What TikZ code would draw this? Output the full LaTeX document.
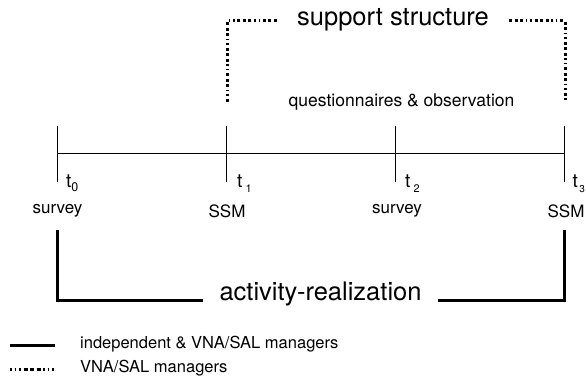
\documentclass[tikz,border=0pt]{standalone}
\usepackage{fontspec}
\setmainfont{TeX Gyre Heros}
\begin{document}
\begin{tikzpicture}[x=1pt,y=-1pt,
  tl/.style={line width=0.9pt},
  solidbr/.style={line width=3pt},
  dotbr/.style={line width=3pt,dash pattern=on 3pt off 2.5pt on 3pt off 2.5pt on 3pt off 2.5pt on 1.5pt off 3pt on 1.5pt off 3pt},
  big/.style={font=\fontsize{25.5}{26}\selectfont, inner sep=0pt},
  small/.style={font=\fontsize{16.5}{17}\selectfont, inner sep=0pt},
  tlab/.style={font=\fontsize{19}{19}\selectfont, inner sep=0pt, anchor=base west}
]
\useasboundingbox (0,0) rectangle (586,382);
% timeline
\coordinate (a0) at (57.5,153.5);
\coordinate (a3) at (564.5,153.5);
\foreach \i/\x in {0/57.5,1/226.5,2/395.5,3/564.5}{
  \coordinate (top\i) at (\x,126);
  \coordinate (bot\i) at (\x,182);
  \draw[tl] (top\i) -- (bot\i);
}
\draw[tl] (a0) -- (a3);
% t labels
\node[tlab] (t0) at (66,188) {t\raisebox{-3.5pt}{\fontsize{12.5}{12.5}\selectfont 0}};
\node[tlab] (t1) at (237,188) {t\,\raisebox{-4.5pt}{\fontsize{11}{11}\selectfont 1}};
\node[tlab] (t2) at (405,188) {t\,\raisebox{-4.5pt}{\fontsize{11}{11}\selectfont 2}};
\node[tlab] (t3) at (572.5,188) {t\kern1.5pt\raisebox{-4.5pt}{\fontsize{10}{10}\selectfont 3}};
% event labels
\node[small, font=\fontsize{17}{17}\selectfont] (e0) at (57.5,211) {survey};
\node[small, font=\fontsize{17}{17}\selectfont] (e1) at (227,211) {SSM};
\node[small, font=\fontsize{17}{17}\selectfont] (e2) at (397,211) {survey};
\node[small, font=\fontsize{17}{17}\selectfont] (e3) at (566,211) {SSM};
% support structure (dotted bracket)
\node[big] (ss) at (393,20) {support structure};
\coordinate (sl) at (227,21);
\coordinate (sr) at (565,21);
\coordinate (slb) at (227,102);
\coordinate (srb) at (565,100);
\draw[dotbr] (ss.west) ++(-20,1) -- (sl) -- (slb);
\draw[dotbr] (ss.east) ++(20,1) -- (sr) -- (srb);
\node[small, font=\fontsize{17.5}{18}\selectfont, anchor=base] (qo) at (401.5,106.5) {questionnaires \& observation};
% activity-realization (solid bracket)
\node[big] (ar) at (320.5,294) {activity-realization};
\coordinate (al) at (57.5,230);
\coordinate (ar2) at (564.5,230);
\coordinate (alb) at (57.5,300);
\coordinate (arb) at (564.5,300);
\draw[solidbr] (al) -- (alb) -- (203,300);
\draw[solidbr] (ar2) -- (arb) -- (438,300);
% legend
\coordinate (l1a) at (10,345);
\coordinate (l1b) at (55,345);
\coordinate (l2a) at (10,369);
\coordinate (l2b) at (55,369);
\draw[solidbr] (l1a) -- (l1b);
\draw[line width=3pt,dash pattern=on 1.5pt off 3pt on 1.5pt off 3pt on 1.5pt off 3pt on 4pt off 2.5pt on 4pt off 2.5pt on 4pt off 2.5pt] (l2a) -- (l2b);
\node[small, anchor=west] (lg1) at (80,344) {independent \& VNA/SAL managers};
\node[small, anchor=west] (lg2) at (80,368) {VNA/SAL managers};
\end{tikzpicture}
\end{document}
